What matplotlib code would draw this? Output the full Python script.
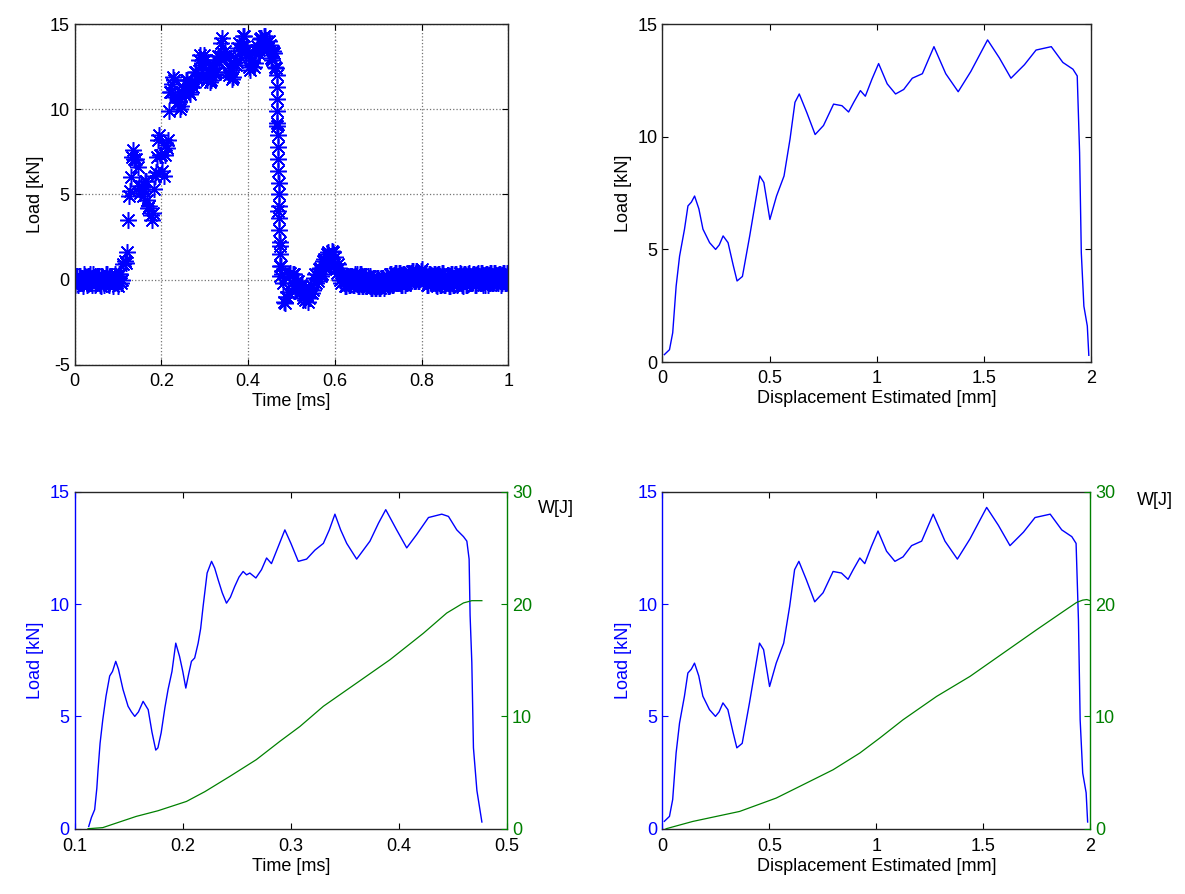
import numpy as np
import matplotlib.pyplot as plt

plt.rcParams['font.family'] = ['Liberation Sans', 'DejaVu Sans']
plt.rcParams['font.size'] = 13
plt.rcParams['axes.unicode_minus'] = False

BLUE = '#0000ff'
GREEN = '#008000'

scan_step = 0.005
load_scan = [
    -0.3, 0.2, -0.2, 0.1, -0.4, 0.2, -0.1, 0.3, -0.3, 0.1,
    -0.2, 0.2, -0.4, 0.1, -0.1, 0.3, -0.3, 0.0, -0.2, 0.2,
    -0.4, 0.3, 0.0, 1.1, 1.6, 4.9, 6.0, 7.6, 7.0, 6.6,
    5.1, 5.3, 5.2, 5.8, 4.2, 3.8, 3.9, 6.1, 7.2, 8.5,
    7.3, 6.1, 7.9, 8.2, 11.0, 11.5, 11.7, 10.4, 10.4, 10.2,
    11.3, 11.1, 11.7, 10.9, 11.6, 11.6, 12.2, 12.0, 13.2, 12.9,
    12.9, 11.7, 12.2, 11.7, 12.6, 12.2, 13.1, 13.1, 14.2, 13.1,
    13.1, 12.0, 12.3, 11.9, 13.0, 12.8, 13.9, 13.8, 14.3, 13.2,
    13.3, 12.3, 12.9, 12.7, 13.7, 13.5, 14.2, 13.7, 14.3, 13.6,
    13.8, 12.9, 13.3, 12.4, 4.0, 0.8, -0.2, -1.4, -1.0, 0.3,
    -0.2, 0.3, -0.6, -0.1, -0.8, -0.4, -1.2, -0.7, -1.1, -0.3,
    -0.6, 0.3, -0.1, 0.7, 0.3, 1.2, 0.8, 1.6, 1.1, 1.6,
    1.3, 0.4, 0.7, -0.2, 0.2, -0.4, 0.2, -0.3, 0.2, -0.3,
    0.3, -0.4, 0.3, -0.4, 0.2, -0.3, 0.2, -0.5, 0.1, -0.5,
    0.1, -0.5, 0.1, -0.4, 0.2, -0.3, 0.3, -0.3, 0.4, -0.2,
    0.4, -0.3, 0.3, -0.2, 0.4, -0.1, 0.5, -0.1, 0.4, -0.1,
    0.6, -0.1, 0.4, -0.3, 0.3, -0.2, 0.3, -0.4, 0.3, -0.3,
    0.4, -0.3, 0.2, -0.4, 0.3, -0.3, 0.3, -0.2, 0.3, -0.4,
    0.3, -0.3, 0.4, -0.2, 0.3, -0.3, 0.4, -0.1, 0.4, -0.3,
    0.3, -0.2, 0.4, -0.1, 0.4, -0.2, 0.3, -0.2, 0.4, -0.2,
    0.1,
]
time_scan = np.arange(len(load_scan)) * scan_step

# the in-between samples (t = 0.0025 + k * 0.005)
load_scan_mid = [
    0.2, -0.3, 0.2, -0.2, 0.3, -0.3, 0.2, -0.2, 0.3, -0.3,
    0.2, -0.3, 0.2, -0.3, 0.3, -0.2, 0.2, -0.4, 0.3, -0.2,
    0.3, -0.2, 0.9, 1.0, 3.5, 5.2, 7.2, 7.1, 7.1, 5.5,
    5.5, 4.9, 5.8, 4.7, 4.3, 3.5, 5.3, 6.3, 8.2, 7.3,
    6.4, 7.3, 7.7, 9.9, 11.0, 11.9, 10.7, 10.7, 10.0, 11.0,
    10.9, 11.7, 11.0, 11.5, 11.3, 12.2, 11.8, 12.9, 12.7, 13.2,
    12.0, 12.2, 11.6, 12.4, 12.1, 12.9, 12.8, 13.9, 13.3, 13.4,
    12.2, 12.4, 11.8, 12.7, 12.6, 13.6, 13.5, 14.3, 13.4, 13.5,
    12.5, 12.9, 12.5, 13.5, 13.3, 14.1, 13.6, 14.3, 13.6, 14.0,
    13.0, 13.4, 12.5, 9.0, 2.0, 0.3, -1.3, -1.0, -0.7, 0.4,
    0.3, -0.5, -0.1, -0.8, -0.3, -1.1, -0.7, -1.3, -0.5, -0.8,
    0.1, -0.2, 0.6, 0.2, 1.1, 0.7, 1.5, 1.1, 1.7, 0.9,
    0.6, 0.9, 0.0, 0.3, -0.4, 0.2, -0.3, 0.2, -0.3, 0.3,
    -0.4, 0.3, -0.4, 0.2, -0.4, 0.2, -0.5, 0.1, -0.5, 0.1,
    -0.5, 0.1, -0.5, 0.2, -0.4, 0.3, -0.3, 0.4, -0.2, 0.4,
    -0.3, 0.3, -0.3, 0.4, -0.2, 0.5, -0.1, 0.5, -0.1, 0.5,
    -0.1, 0.4, -0.3, 0.3, -0.2, 0.3, -0.3, 0.3, -0.3, 0.4,
    -0.3, 0.2, -0.4, 0.3, -0.3, 0.3, -0.3, 0.4, -0.3, 0.3,
    -0.3, 0.3, -0.2, 0.3, -0.3, 0.3, -0.1, 0.4, -0.3, 0.3,
    -0.3, 0.4, -0.2, 0.4, -0.2, 0.3, -0.3, 0.4, -0.2, 0.4,
]
time_scan_mid = np.arange(len(load_scan_mid)) * scan_step + scan_step / 2

# individual samples visible on the unloading edge
time_drop = [0.4655, 0.4661, 0.4666, 0.4671, 0.4676, 0.4681, 0.4686, 0.4691, 0.4696,
             0.4701, 0.4706, 0.4711, 0.4716, 0.4721, 0.4726, 0.4731, 0.4736, 0.4741]
load_drop = [12.0, 11.3, 10.6, 9.9, 9.2, 8.5, 7.8, 7.1, 6.4,
             5.7, 5.0, 4.3, 3.6, 2.9, 2.2, 1.5, 0.8, 0.2]

# --- filtered load vs time (contact window)
time_ms = [
    0.113, 0.1155, 0.1185, 0.1205, 0.1216, 0.1235, 0.126, 0.129, 0.1324, 0.135,
    0.138, 0.1405, 0.1447, 0.1494, 0.1525, 0.1556, 0.159, 0.1633, 0.168, 0.1715,
    0.175, 0.177, 0.180, 0.1835, 0.1864, 0.190, 0.1935, 0.197, 0.200, 0.2028,
    0.2055, 0.208, 0.211, 0.2142, 0.2165, 0.2188, 0.2225, 0.2266, 0.2295, 0.2327,
    0.2365, 0.2404, 0.244, 0.248, 0.252, 0.2558, 0.259, 0.262, 0.2676, 0.2728,
    0.2775, 0.282, 0.2883, 0.2944, 0.300, 0.3068, 0.3145, 0.3222, 0.330, 0.3355,
    0.3407, 0.346, 0.3516, 0.3608, 0.3731, 0.381, 0.3877, 0.3978, 0.4071, 0.4164,
    0.4272, 0.4395, 0.4457, 0.4534, 0.4596, 0.4627, 0.4648, 0.4657, 0.4673, 0.4688,
    0.472, 0.4766,
]
load_time = [
    0.1, 0.5, 0.85, 1.8, 2.6, 3.8, 4.85, 5.9, 6.8, 7.0,
    7.45, 7.1, 6.2, 5.45, 5.2, 5.0, 5.2, 5.67, 5.3, 4.3,
    3.5, 3.6, 4.27, 5.4, 6.2, 7.0, 8.26, 7.67, 7.0, 6.26,
    6.9, 7.45, 7.6, 8.26, 8.9, 9.9, 11.38, 11.9, 11.6, 11.08,
    10.5, 10.04, 10.3, 10.78, 11.2, 11.45, 11.3, 11.38, 11.16, 11.53,
    12.05, 11.8, 12.56, 13.3, 12.7, 11.9, 12.0, 12.4, 12.7, 13.3,
    14.0, 13.3, 12.7, 12.0, 12.8, 13.6, 14.2, 13.3, 12.5, 13.1,
    13.85, 14.0, 13.9, 13.3, 13.0, 12.8, 12.0, 9.5, 7.4, 3.6,
    1.7, 0.3,
]

# --- load vs estimated displacement
disp_mm = [
    0.009, 0.033, 0.048, 0.064, 0.08, 0.103, 0.119, 0.135, 0.15, 0.17,
    0.189, 0.22, 0.248, 0.265, 0.283, 0.306, 0.33, 0.348, 0.373, 0.39,
    0.407, 0.43, 0.454, 0.473, 0.501, 0.532, 0.567, 0.595, 0.618, 0.638,
    0.673, 0.712, 0.751, 0.798, 0.837, 0.868, 0.892, 0.923, 0.946, 0.977,
    1.008, 1.048, 1.087, 1.125, 1.165, 1.212, 1.266, 1.321, 1.379, 1.438,
    1.516, 1.571, 1.625, 1.688, 1.742, 1.813, 1.867, 1.914, 1.934, 1.945,
    1.953, 1.965, 1.981, 1.988,
]
load_disp = [
    0.33, 0.55, 1.3, 3.37, 4.7, 5.9, 6.93, 7.1, 7.37, 6.8,
    5.9, 5.3, 5.0, 5.2, 5.6, 5.3, 4.3, 3.6, 3.8, 4.7,
    5.6, 6.9, 8.26, 7.97, 6.33, 7.37, 8.26, 9.9, 11.53, 11.9,
    11.08, 10.1, 10.5, 11.45, 11.38, 11.1, 11.53, 12.05, 11.8, 12.56,
    13.25, 12.35, 11.9, 12.1, 12.6, 12.8, 14.0, 12.8, 12.0, 12.9,
    14.3, 13.5, 12.6, 13.2, 13.85, 14.0, 13.3, 13.0, 12.7, 9.3,
    4.85, 2.48, 1.6, 0.3,
]

# --- absorbed energy
w_time_ms = [0.1123, 0.126, 0.157, 0.177, 0.2034, 0.2204, 0.2435, 0.268, 0.2898,
             0.3083, 0.33, 0.3608, 0.3917, 0.4225, 0.4441, 0.4596, 0.4673, 0.4766]
w_time_J = [0.0, 0.1, 1.1, 1.6, 2.43, 3.3, 4.66, 6.15, 7.78,
            9.1, 10.9, 12.97, 15.05, 17.4, 19.2, 20.1, 20.3, 20.3]
w_disp_mm = [0.017, 0.142, 0.361, 0.532, 0.642, 0.798, 0.923, 1.016, 1.125,
             1.282, 1.438, 1.594, 1.75, 1.875, 1.937, 1.965, 1.984, 2.0]
w_disp_J = [0.0, 0.65, 1.54, 2.73, 3.77, 5.25, 6.74, 8.07, 9.7,
            11.78, 13.56, 15.64, 17.72, 19.35, 20.15, 20.35, 20.4, 20.3]

ASTERISK = (8, 2, 0)


def style_box(ax):
    for s in ax.spines.values():
        s.set_linewidth(1.0)
        s.set_color('0.15')
    ax.tick_params(direction='in', length=4, top=True, right=True, labelsize=13)
    ax.tick_params(axis='x', pad=6)


def energy_panel(ax, x_load, y_load, x_w, y_w, xlim, xticks, xlabel, wj_pos):
    ax.plot(x_load, y_load, color=BLUE, lw=1.0)
    ax.set_xlim(*xlim)
    ax.set_ylim(0, 15)
    ax.set_xticks(xticks)
    ax.set_yticks([0, 5, 10, 15])
    ax.set_xlabel(xlabel, labelpad=2)
    ax.set_ylabel('Load [kN]', color=BLUE)
    for s in ax.spines.values():
        s.set_linewidth(1.0)
        s.set_color('0.15')
    ax.spines['left'].set_color(BLUE)
    ax.spines['right'].set_visible(False)
    ax.tick_params(axis='x', direction='in', length=4, top=True, labelsize=13, pad=7)
    ax.tick_params(axis='y', direction='in', length=4, colors=BLUE, labelsize=13)

    ax2 = ax.twinx()
    ax2.plot(x_w, y_w, color=GREEN, lw=0.9)
    ax2.set_ylim(0, 30)
    ax2.set_yticks([0, 10, 20, 30])
    for k in ['left', 'top', 'bottom']:
        ax2.spines[k].set_visible(False)
    ax2.spines['right'].set_color(GREEN)
    ax2.spines['right'].set_linewidth(1.0)
    ax2.tick_params(axis='y', direction='in', length=4, colors=GREEN, labelsize=13)
    ax.text(wj_pos[0], wj_pos[1], 'W[J]', transform=ax.transAxes, fontsize=13,
            color='black', va='center', ha='left')


fig = plt.figure(figsize=(11.85, 8.94), dpi=100)

# top left: raw signal
ax1 = fig.add_axes([0.063, 0.592, 0.366, 0.381])
for tt, ll in [(time_scan, load_scan), (time_scan_mid, load_scan_mid), (time_drop, load_drop)]:
    ax1.plot(tt, ll, linestyle='none', marker=ASTERISK, ms=12, mew=1.1, color=BLUE)
ax1.set_xlim(0, 1)
ax1.set_ylim(-5, 15)
ax1.set_xticks([0, 0.2, 0.4, 0.6, 0.8, 1])
ax1.set_xticklabels(['0', '0.2', '0.4', '0.6', '0.8', '1'])
ax1.set_yticks([-5, 0, 5, 10, 15])
ax1.grid(True, linestyle=':', color='0.45', linewidth=0.9)
ax1.set_xlabel('Time [ms]', labelpad=2)
ax1.set_ylabel('Load [kN]')
style_box(ax1)

# top right: load vs displacement
ax3 = fig.add_axes([0.559, 0.595, 0.362, 0.378])
ax3.plot(disp_mm, load_disp, color=BLUE, lw=1.0)
ax3.set_xlim(0, 2)
ax3.set_ylim(0, 15)
ax3.set_xticks([0, 0.5, 1, 1.5, 2])
ax3.set_xticklabels(['0', '0.5', '1', '1.5', '2'])
ax3.set_yticks([0, 5, 10, 15])
ax3.set_xlabel('Displacement Estimated [mm]', labelpad=2)
ax3.set_ylabel('Load [kN]')
style_box(ax3)

# bottom left: load + energy vs time
ax4 = fig.add_axes([0.063, 0.073, 0.365, 0.377])
energy_panel(ax4, time_ms, load_time, w_time_ms, w_time_J, (0.1, 0.5),
             [0.1, 0.2, 0.3, 0.4, 0.5], 'Time [ms]', (1.072, 0.95))

# bottom right: load + energy vs displacement
ax5 = fig.add_axes([0.559, 0.073, 0.361, 0.377])
energy_panel(ax5, disp_mm, load_disp, w_disp_mm, w_disp_J, (0, 2),
             [0, 0.5, 1, 1.5, 2], 'Displacement Estimated [mm]', (1.11, 0.975))
ax5.set_xticklabels(['0', '0.5', '1', '1.5', '2'])

fig.savefig('out.png', dpi=100)
